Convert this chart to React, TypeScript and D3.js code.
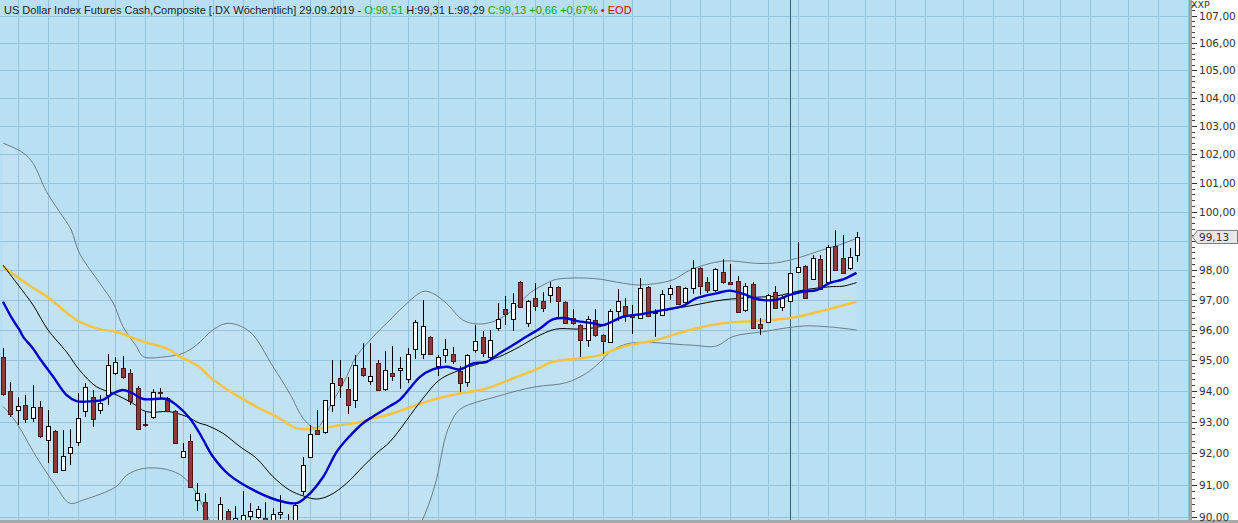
import React from "react";
import * as d3 from "d3";

const W = 1238;
const H = 523;
const PLOT_R = 1189;
const PLOT_B = 520;

// Weekly OHLC (index 0 = week of 23.07.2017, last = 29.09.2019)
const opens = [
  95.1, 94.0, 93.38, 93.55, 93.13, 93.47, 92.42, 92.7, 91.47, 92.0,
  92.36, 93.35, 93.82, 93.38, 93.87, 94.57, 94.76, 94.57, 94.08, 92.95,
  93.15, 93.97, 93.76, 93.34, 91.87, 92.38, 90.53, 90.47, 89.6, 89.5,
  90.19, 89.85, 89.8, 90.03, 90.01, 89.97, 89.9, 90.08, 89.92, 89.85,
  90.82, 91.87, 92.73, 92.68, 93.55, 94.43, 94.07, 93.71, 94.76, 94.31,
  94.9, 94.07, 94.6, 94.68, 94.38, 95.36, 95.2, 95.77, 94.8, 95.17,
  95.2, 94.64, 94.28, 95.33, 95.77, 95.12, 96.05, 96.68, 96.35, 97.6,
  96.22, 97.07, 96.97, 97.17, 97.43, 96.93, 96.4, 96.15, 95.68, 96.34,
  95.83, 95.6, 96.62, 96.8, 96.53, 96.38, 97.42, 96.55, 96.5, 97.2,
  97.45, 96.94, 97.4, 98.07, 97.61, 97.33, 97.95, 97.6, 97.65, 96.65,
  97.55, 96.2, 96.27, 97.28, 96.77, 96.97, 97.95, 98.14, 97.7, 98.37,
  97.6, 98.83, 98.4, 98.08, 98.51,
];
const highs = [
  95.4, 94.3, 93.81, 93.87, 94.19, 93.67, 93.4, 92.75, 92.74, 92.77,
  93.92, 94.25, 94.03, 93.87, 95.2, 95.12, 95.14, 94.73, 94.16, 93.32,
  94.05, 94.1, 93.81, 93.37, 92.32, 92.63, 91.07, 90.76, 89.85, 90.63,
  90.26, 90.34, 90.82, 90.45, 90.35, 90.47, 90.29, 90.69, 90.08, 90.45,
  91.89, 92.9, 93.4, 93.72, 95.0, 95.0, 94.46, 95.17, 95.56, 95.56,
  95.0, 95.3, 95.47, 95.12, 95.4, 96.33, 97.0, 95.8, 95.17, 95.7,
  95.45, 94.81, 95.2, 96.15, 95.97, 96.0, 96.9, 97.13, 97.22, 97.65,
  97.0, 97.57, 97.27, 97.6, 97.47, 96.95, 96.7, 96.2, 96.45, 96.68,
  95.88, 96.68, 97.35, 97.08, 96.83, 97.75, 97.45, 96.7, 97.32, 97.5,
  97.47, 97.42, 98.35, 98.12, 97.78, 98.07, 98.37, 98.2, 97.8, 97.58,
  97.6, 96.4, 97.2, 97.45, 97.15, 97.9, 98.97, 98.17, 98.5, 98.5,
  98.85, 99.38, 99.2, 98.74, 99.31,
];
const lows = [
  93.85, 93.15, 92.9, 92.97, 93.0, 92.48, 91.68, 91.4, 91.45, 91.63,
  92.23, 93.15, 92.85, 93.25, 93.55, 94.51, 94.4, 93.55, 92.76, 92.85,
  93.08, 93.75, 93.34, 92.33, 91.84, 90.95, 90.19, 89.5, 89.2, 89.3,
  89.8, 89.7, 89.7, 89.9, 89.95, 89.8, 89.85, 89.95, 89.8, 89.8,
  90.7, 91.84, 92.57, 92.6, 93.33, 93.76, 93.27, 93.44, 94.46, 94.19,
  94.03, 94.0, 94.31, 94.07, 94.27, 95.03, 95.03, 95.18, 94.5, 94.9,
  94.88, 93.95, 94.13, 95.25, 95.12, 95.0, 95.95, 96.17, 95.95, 96.75,
  96.1, 96.64, 96.6, 96.88, 96.4, 96.2, 96.15, 95.1, 95.45, 95.78,
  95.2, 95.58, 96.3, 96.25, 95.87, 96.35, 96.43, 95.78, 96.45, 96.99,
  96.83, 96.88, 97.2, 97.18, 97.22, 97.28, 97.55, 97.55, 96.58, 96.6,
  96.07, 95.83, 96.25, 96.7, 96.63, 96.95, 97.9, 97.03, 97.7, 97.33,
  97.58, 97.98, 97.87, 98.0, 98.29,
];
const closes = [
  93.9, 93.25, 93.52, 93.08, 93.47, 92.55, 92.88, 91.41, 91.9, 92.2,
  93.12, 94.12, 93.1, 93.61, 94.84, 94.95, 94.44, 93.68, 92.78, 92.9,
  93.95, 93.92, 93.36, 92.33, 92.07, 90.95, 90.74, 89.6, 89.4, 90.4,
  89.9, 89.97, 90.06, 90.19, 90.26, 89.9, 90.08, 90.17, 89.85, 90.37,
  91.64, 92.63, 92.6, 93.7, 94.26, 94.19, 93.56, 94.84, 94.53, 94.48,
  94.03, 94.67, 94.48, 94.75, 95.2, 96.27, 96.14, 95.2, 95.12, 95.36,
  94.98, 94.26, 95.17, 95.65, 95.25, 95.67, 96.35, 96.53, 96.9, 96.77,
  96.96, 96.8, 96.73, 97.43, 96.96, 96.22, 96.22, 95.66, 96.35, 95.83,
  95.64, 96.62, 96.96, 96.5, 96.42, 97.4, 96.46, 96.6, 97.2, 97.4,
  96.87, 97.4, 98.07, 97.48, 97.33, 98.03, 97.6, 97.55, 96.58, 97.45,
  96.07, 96.08, 97.17, 96.73, 97.07, 97.9, 98.1, 97.05, 98.4, 97.35,
  98.8, 98.0, 97.89, 98.45, 99.13,
];

// Indicator lines: [week index, value]
const upperBand: [number, number][] = [
  [0, 102.39], [2.67, 102.05], [4, 101.68], [5.8, 100.69], [8, 99.82], [9.1, 99.37],
  [10.2, 98.57], [12.9, 97.56], [14.7, 96.89], [16, 96.11], [17.8, 95.45], [18.7, 95.12],
  [21.8, 95.12], [24, 95.23], [25.8, 95.5], [28, 96.0], [30, 96.22], [32.9, 95.94],
  [36, 94.79], [38.2, 93.93], [40.2, 93.06], [41.8, 92.8], [43.6, 93.49], [45.8, 94.46],
  [47.1, 95.12], [49.8, 95.89], [51.6, 96.33], [52.9, 96.66], [56, 97.28], [57.3, 97.22],
  [59.1, 96.89], [61.3, 96.33], [63.1, 96.2], [65.3, 96.27], [68, 96.66], [70.2, 97.22],
  [72.5, 97.56], [73.8, 97.69], [78.7, 97.72], [82.7, 97.56], [84.9, 97.5], [89.3, 97.67],
  [91.6, 98.0], [96, 98.31], [100.5, 98.23], [103.1, 98.25], [105.8, 98.4], [109.3, 98.69],
  [112, 98.9], [113.8, 99.08],
];
const lowerBand: [number, number][] = [
  [0, 93.5], [1.56, 93.06], [4.45, 91.89], [7.1, 90.95], [8.9, 90.43], [10.7, 90.53],
  [15.1, 90.95], [16.5, 91.31], [18.7, 91.52], [21.8, 91.49], [24, 91.26], [25.8, 90.74],
  [26.9, 90.2], [28, 89.7], [31, 88.6], [36, 87.6], [42, 87.2], [48, 87.8], [53, 88.8],
  [55.8, 89.85], [57.6, 91.0], [59.3, 92.75], [60.9, 93.4], [63.3, 93.65], [65.3, 93.78],
  [68, 93.97], [71.1, 94.14], [75.1, 94.27], [77.8, 94.58], [79.6, 94.94], [80.9, 95.27],
  [83.6, 95.56], [91.6, 95.5], [95.1, 95.47], [97.3, 95.78], [101.3, 95.94], [106.7, 96.13],
  [110.2, 96.1], [113.8, 96.0],
];
const middleBand: [number, number][] = [
  [0, 98.17], [2.2, 97.44], [4, 96.83], [6, 96.0], [8.45, 95.28], [10.2, 94.68],
  [12.45, 94.14], [14.7, 93.92], [17.3, 93.6], [19.1, 93.33], [22.2, 93.33], [24.5, 93.17],
  [26.2, 92.96], [27.1, 92.9], [29.3, 92.64], [31.6, 92.21], [33.8, 91.84], [36, 91.26],
  [38.2, 90.84], [40, 90.66], [41.8, 90.56], [43.6, 90.68], [45.8, 91.05], [48, 91.58],
  [49.8, 92.0], [51.6, 92.37], [56, 93.76], [58.2, 94.36], [60.9, 94.68], [63.6, 94.9],
  [66.2, 95.12], [68.9, 95.45], [71.6, 95.83], [73.8, 96.03], [76.9, 96.03], [79.6, 96.11],
  [82.7, 96.42], [87.1, 96.61], [91.6, 96.8], [96, 97.0], [100.5, 97.09], [103.1, 97.13],
  [106.7, 97.33], [110.2, 97.44], [112, 97.46], [113.8, 97.58],
];
const blueLine: [number, number][] = [
  [0, 96.94], [1.33, 96.33], [2.2, 96.0], [2.67, 95.78], [4, 95.39], [4.9, 95.06],
  [6.7, 94.46], [8.45, 93.87], [9.8, 93.67], [12, 93.67], [13.3, 93.71], [14.7, 93.92],
  [16, 94.03], [17.3, 93.92], [18.7, 93.74], [21.8, 93.74], [23.1, 93.55], [24.9, 93.12],
  [26.2, 92.64], [26.7, 92.43], [28, 91.89], [30.2, 91.31], [33.8, 90.79], [36.5, 90.53],
  [39.1, 90.43], [40.5, 90.64], [42.7, 91.26], [44.5, 92.05], [46.2, 92.54], [48, 92.96],
  [49.3, 93.17], [51.6, 93.51], [52.9, 93.71], [55.6, 94.46], [57.3, 94.7], [59.1, 94.79],
  [60.9, 94.7], [62.7, 94.9], [64.5, 94.95], [66.2, 95.23], [68, 95.5], [69.8, 95.78],
  [71.6, 96.05], [73.3, 96.35], [75.1, 96.39], [76.4, 96.3], [78.7, 96.22], [80, 96.16],
  [82.7, 96.44], [85.3, 96.53], [88, 96.66], [90.7, 96.8], [92.4, 97.05], [95.1, 97.22],
  [96.9, 97.31], [98.7, 97.2], [100.5, 97.03], [103.1, 97.0], [104.9, 97.17], [106.7, 97.28],
  [108.5, 97.33], [110.2, 97.56], [112, 97.69], [113.8, 97.91],
];
const yellowLine: [number, number][] = [
  [0, 98.12], [3.1, 97.56], [6.2, 97.05], [9.8, 96.33], [12.9, 96.02], [15.1, 95.94],
  [18.7, 95.61], [21.8, 95.39], [23.6, 95.12], [24.9, 94.97], [26.2, 94.78], [27.6, 94.45],
  [30.7, 93.92], [33.8, 93.49], [36.9, 93.11], [39.1, 92.8], [42.7, 92.8], [44.9, 92.9],
  [47.1, 92.97], [49.3, 93.11], [51.6, 93.25], [57.3, 93.71], [61.3, 93.94], [64.5, 94.08],
  [68, 94.41], [71.1, 94.7], [73.3, 94.95], [76.9, 95.06], [79.6, 95.17], [82.7, 95.45],
  [87.1, 95.67], [91.6, 96.0], [96, 96.22], [100.5, 96.3], [104.9, 96.39], [109.3, 96.64],
  [113.8, 96.94],
];

const yTicks = [90, 91, 92, 93, 94, 95, 96, 97, 98, 99, 100, 101, 102, 103, 104, 105, 106, 107];
// labels hidden where the last-price marker sits
const yTickLabels = [90, 91, 92, 93, 94, 95, 96, 97, 98, 100, 101, 102, 103, 104, 105, 106, 107];
const lastPrice = 99.13;
const cursorWeek = 105;
const firstWeek = new Date(2017, 6, 23);
const totalWeeks = 159;

const DARK = "#1e1e1e";
const GREEN = "#1a9f1a";
const RED = "#e00000";
const headerParts = [
  { t: "US Dollar Index Futures Cash,Composite [.DX Wöchentlich] 29.09.2019 - ", c: DARK },
  { t: "O:98,51 ", c: GREEN },
  { t: "H:99,31 L:98,29 ", c: DARK },
  { t: "C:99,13 +0,66 +0,67% ", c: GREEN },
  { t: "\u2022 ", c: RED },
  { t: "EOD", c: RED },
];

const fmt = (v: number) => v.toFixed(2).replace(".", ",");

export default function App() {
  const xs = d3.scaleLinear().domain([0, totalWeeks - 1]).range([3, 3 + 7.5 * (totalWeeks - 1)]);
  const ys = d3.scaleLog().domain([90, 107]).range([517, 15.5]);

  const line = d3
    .line<[number, number]>()
    .x((d) => xs(d[0]))
    .y((d) => ys(d[1]))
    .curve(d3.curveCatmullRom.alpha(0.5));

  const upperPath = line(upperBand) || "";
  const lowerRev = (line([...lowerBand].reverse()) || "").replace(/^M/, "L");
  const bandFill = upperPath + lowerRev + "Z";

  const monthLines: number[] = [];
  for (let i = 0; i < totalWeeks; i++) {
    const d = d3.timeDay.offset(firstWeek, 7 * i);
    const p = d3.timeDay.offset(firstWeek, 7 * (i - 1));
    if (i > 0 && d.getMonth() !== p.getMonth()) monthLines.push(i);
  }

  const minorTicks = d3.range(900, 1076, 2).map((v) => v / 10);

  const yLast = ys(lastPrice);

  return (
    <svg
      width={W}
      height={H}
      style={{ position: "absolute", left: 0, top: 0, display: "block" }}
      xmlns="http://www.w3.org/2000/svg"
    >
      <defs>
        <clipPath id="plot">
          <rect x={0} y={0} width={PLOT_R} height={PLOT_B} />
        </clipPath>
      </defs>
      <rect x={0} y={0} width={W} height={H} fill="#b9dff2" />
      <g clipPath="url(#plot)">
        {/* band fill */}
        <path d={bandFill} fill="#ffffff" fillOpacity={0.12} stroke="none" />
        {/* grid */}
        {yTicks.map((t) => (
          <line
            key={"h" + t}
            x1={0}
            x2={PLOT_R}
            y1={Math.round(ys(t)) + 0.5}
            y2={Math.round(ys(t)) + 0.5}
            stroke="#97c4db"
            strokeWidth={1}
          />
        ))}
        {monthLines.map((i) => (
          <line
            key={"v" + i}
            x1={Math.floor(xs(i)) + 0.5}
            x2={Math.floor(xs(i)) + 0.5}
            y1={0}
            y2={PLOT_B}
            stroke="#97c4db"
            strokeWidth={1}
          />
        ))}
        {/* cursor */}
        <line
          x1={Math.floor(xs(cursorWeek)) + 0.5}
          x2={Math.floor(xs(cursorWeek)) + 0.5}
          y1={0}
          y2={PLOT_B}
          stroke="#2b6578"
          strokeWidth={1}
        />
        {/* bands */}
        <path d={upperPath} fill="none" stroke="#63727c" strokeWidth={0.9} />
        <path d={line(lowerBand) || ""} fill="none" stroke="#63727c" strokeWidth={0.9} />
        <path d={line(yellowLine) || ""} fill="none" stroke="#f6c445" strokeWidth={2.5} />
        <path d={line(middleBand) || ""} fill="none" stroke="#000000" strokeWidth={1} />
        {/* candles */}
        {opens.map((o, i) => {
          const c = closes[i];
          const cx = Math.floor(xs(i));
          const up = c >= o;
          const yTop = Math.round(ys(Math.max(o, c)));
          const yBot = Math.round(ys(Math.min(o, c)));
          return (
            <g key={"c" + i}>
              <line
                x1={cx + 0.5}
                x2={cx + 0.5}
                y1={Math.round(ys(highs[i]))}
                y2={Math.round(ys(lows[i]))}
                stroke="#000"
                strokeWidth={1}
              />
              <rect
                x={cx - 2 + 0.5}
                y={yTop + 0.5}
                width={4}
                height={Math.max(1, yBot - yTop)}
                fill={up ? "#ffffff" : "#8e3a3a"}
                stroke={up ? "#000000" : "#4a1a1a"}
                strokeWidth={1}
              />
            </g>
          );
        })}
        <path d={line(blueLine) || ""} fill="none" stroke="#0000c8" strokeWidth={2.4} />
        {/* header */}
        <text
          x={4}
          y={14}
          fontFamily="'Liberation Sans', Arial, sans-serif"
          fontSize={11}
          style={{ whiteSpace: "pre" }}
        >
          {headerParts.map((p, k) => (
            <tspan key={k} fill={p.c}>
              {p.t}
            </tspan>
          ))}
        </text>
      </g>
      {/* bottom strip */}
      <rect x={0} y={PLOT_B} width={W} height={H - PLOT_B} fill="#a8a8a8" />
      {/* axis */}
      <rect x={1192} y={0} width={W - 1192} height={PLOT_B} fill="#ffffff" />
      <rect x={1189} y={0} width={3} height={PLOT_B} fill="#a3a3a3" />
      {minorTicks.map((v) => (
        <line
          key={"m" + v}
          x1={1192}
          x2={1195}
          y1={Math.round(ys(v)) + 0.5}
          y2={Math.round(ys(v)) + 0.5}
          stroke="#444"
          strokeWidth={1}
        />
      ))}
      {yTicks.map((t) => (
        <line
          key={"t" + t}
          x1={1192}
          x2={1197}
          y1={Math.round(ys(t)) + 0.5}
          y2={Math.round(ys(t)) + 0.5}
          stroke="#333"
          strokeWidth={1}
        />
      ))}
      {yTickLabels.map((t) => (
        <text
          key={"l" + t}
          x={1199}
          y={ys(t) + 4}
          fontFamily="'DejaVu Sans', Verdana, sans-serif"
          fontSize={10.5}
          fill="#333"
        >
          {fmt(t)}
        </text>
      ))}
      <text x={1191} y={8} fontFamily="'DejaVu Sans', sans-serif" fontSize={9.5} fill="#333">
        XXP
      </text>
      {/* last price marker */}
      <path
        d={`M1192.5,${yLast} L1197.5,${yLast - 6.5} L1237.5,${yLast - 6.5} L1237.5,${yLast + 6.5} L1197.5,${yLast + 6.5} Z`}
        fill="#e8e8e8"
        stroke="#7a7a7a"
        strokeWidth={1}
      />
      <text
        x={1199}
        y={yLast + 4}
        fontFamily="'DejaVu Sans', Verdana, sans-serif"
        fontSize={10.5}
        fill="#333"
      >
        {fmt(lastPrice)}
      </text>
    </svg>
  );
}
